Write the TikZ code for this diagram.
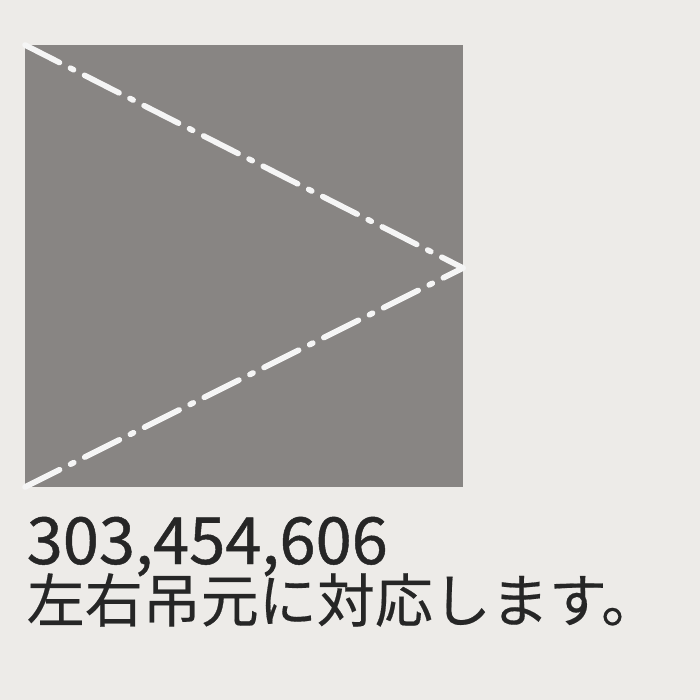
\documentclass[tikz,border=0pt]{standalone}
\usepackage{fontspec}
\newfontfamily\jpfont[FakeBold=0.3]{Noto Sans CJK JP}
\newfontfamily\numfont[FakeBold=0.7]{Noto Sans CJK JP}
\usetikzlibrary{positioning, calc}
\definecolor{PaperWhite}{RGB}{237,235,232}
\definecolor{PanelGrey}{RGB}{136,133,131}
\definecolor{InkGrey}{RGB}{38,38,38}

\begin{document}
\begin{tikzpicture}[x=0.01cm, y=-0.01cm,
    hinge/.style={color=white!92!PanelGrey, line width=1.6pt, line cap=round,
        dash pattern=on 11pt off 3.5pt on 1pt off 3.5pt},
    label/.style={inner sep=0, anchor=base west, text=InkGrey}]
    \fill[PaperWhite] (0,0) rectangle (700,700);
    \useasboundingbox (0,0) rectangle (700,700);
    \fill[PanelGrey] (25,45) rectangle (463,487);
    \coordinate (tl) at (25,45);
    \coordinate (tip) at (463,268);
    \coordinate (bl) at (25,487);
    \draw[hinge] (tl) -- (tip);
    \draw[hinge] (bl) -- (tip);
    \node[label, font=\numfont\fontsize{18.5pt}{21pt}\selectfont] (num) at (26,564) {303,454,606};
    \node[label, font=\jpfont\fontsize{16.5pt}{19pt}\selectfont] (note) at (26,622) {左右吊元に対応します。};
\end{tikzpicture}
\end{document}
